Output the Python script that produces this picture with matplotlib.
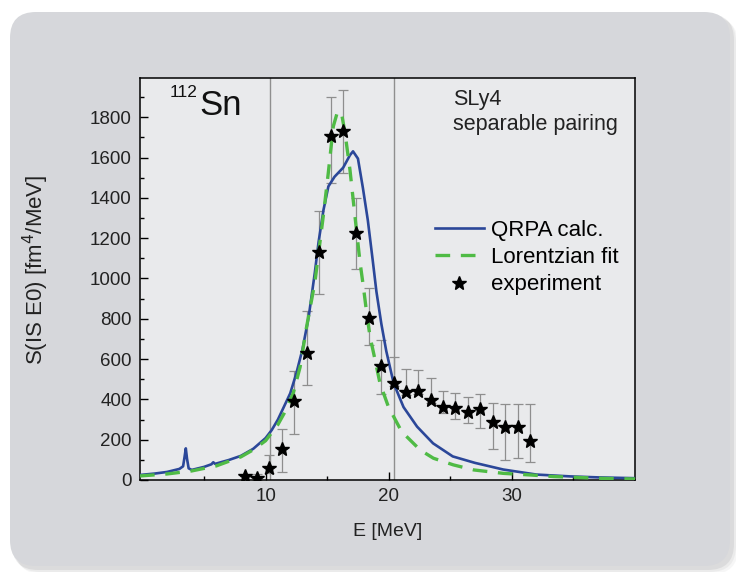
import matplotlib
matplotlib.use("Agg")
import matplotlib.pyplot as plt
from matplotlib.patches import FancyBboxPatch
from matplotlib.transforms import IdentityTransform

plt.rcParams["font.family"] = ["Liberation Sans", "DejaVu Sans"]

# QRPA isoscalar E0 strength (SLy4, separable pairing)
qrpa_e = [-0.2, 1.0, 2.0, 3.0, 3.3, 3.42, 3.52, 3.62, 3.75, 4.0, 5.0, 5.6, 5.75,
          5.9, 7.0, 8.0, 9.0, 10.0, 10.5, 11.0, 11.5, 12.0, 12.5, 13.0, 13.5,
          14.0, 14.3, 14.7, 15.1, 15.6, 16.3, 16.85, 17.1, 17.5, 17.9, 18.3,
          18.7, 19.0, 19.4, 19.8, 20.4, 21.2, 22.3, 23.6, 25.2, 27.0, 29.3,
          32.0, 34.7, 37.0, 40.0]
qrpa_s = [25, 32, 40, 55, 68, 115, 157, 105, 58, 50, 65, 78, 88,
          80, 99, 120, 155, 208, 248, 300, 365, 430, 530, 650, 810,
          1030, 1180, 1340, 1457, 1505, 1550, 1612, 1631, 1595, 1450, 1290,
          1090, 935, 775, 640, 480, 362, 265, 182, 117, 85, 52,
          27, 18, 13, 9]

# Lorentzian fit to the measured strength
lor_e = [-0.2, 2.0, 4.0, 6.0, 8.0, 9.0, 10.0, 11.0, 11.5, 12.24, 12.8, 13.33,
         14.0, 14.68, 15.09, 15.5, 15.85, 16.18, 16.45, 16.85, 17.26, 17.67,
         17.94, 18.21, 18.48, 18.89, 19.29, 19.97, 21.05, 22.55, 23.63, 25.25,
         26.9, 29.3, 31.5, 33.4, 37.4, 40.0]
lor_s = [20, 30, 45, 70, 115, 150, 195, 275, 330, 430, 560, 760,
         980, 1308, 1523, 1755, 1830, 1815, 1722, 1540, 1308, 1080,
         960, 828, 712, 596, 480, 364, 240, 149, 108, 75,
         50, 33, 25, 17, 8, 5]

# Measured strength with asymmetric uncertainties
exp_e = [8.3, 9.3, 10.3, 11.3, 12.3, 13.33, 14.35, 15.3, 16.3, 17.37, 18.37,
         19.37, 20.4, 21.4, 22.4, 23.4, 24.4, 25.4, 26.4, 27.42, 28.45, 29.45,
         30.49, 31.49]
exp_s = [22, 8, 60, 153, 390, 630, 1130, 1705, 1733, 1228, 803,
         568, 480, 435, 440, 398, 362, 356, 336, 353, 287, 262,
         262, 196]
exp_lo = [0, 8, 27, 112, 160, 158, 206, 230, 209, 180, 135,
          140, 15, 15, 15, 15, 31, 54, 51, 96, 135, 163,
          151, 105]
exp_hi = [0, 20, 62, 98, 153, 211, 203, 198, 202, 173, 149,
          126, 130, 118, 107, 108, 78, 78, 78, 75, 97, 116,
          116, 182]

# Boundaries of the fitted energy window
window_e = [10.35, 20.4]

fig = plt.figure(figsize=(7.36, 5.72), dpi=100)
fig.patch.set_facecolor("white")

# card with soft drop shadow (pixel coordinates)
for off, alpha in [(6, 0.06), (4, 0.08), (2, 0.12)]:
    sh = FancyBboxPatch((10 + off, 4 - off), 722, 556,
                        boxstyle="round,pad=0,rounding_size=26",
                        transform=IdentityTransform(), facecolor="#6e6f74",
                        edgecolor="none", alpha=alpha, zorder=0)
    fig.add_artist(sh)
card = FancyBboxPatch((10, 6), 720, 554, boxstyle="round,pad=0,rounding_size=26",
                      transform=IdentityTransform(), facecolor="#d6d7db",
                      edgecolor="none", zorder=0.5)
fig.add_artist(card)

ax = fig.add_axes([140 / 736, 92 / 572, 495 / 736, 402 / 572])
ax.set_facecolor("#e9eaec")
ax.set_zorder(2)

for xv in window_e:
    ax.axvline(xv, color="#8f8f8f", lw=1.0, zorder=1)

ax.errorbar(exp_e, exp_s, yerr=[exp_lo, exp_hi], fmt="none", ecolor="#8e8e8e",
            elinewidth=0.9, capsize=3.5, capthick=0.9, zorder=2)

ax.plot(qrpa_e, qrpa_s, color="#2b4799", lw=1.9, label="QRPA calc.", zorder=3)
ax.plot(lor_e, lor_s, color="#4fbb45", lw=2.4, ls=(0, (4.4, 3.2)),
        label="Lorentzian fit", zorder=4)
ax.plot(exp_e, exp_s, ls="none", marker="*", color="black", ms=10,
        label="experiment", zorder=5)

ax.set_xlim(-0.2, 40)
ax.set_ylim(0, 1995)
ax.set_xticks([10, 20, 30])
ax.set_xticks([5, 15, 25, 35], minor=True)
ax.set_yticks(range(0, 1801, 200))
ax.set_yticks(range(100, 1901, 200), minor=True)
ax.tick_params(which="both", direction="in", top=False, right=False, width=1.0)
ax.tick_params(which="major", length=5.5, labelsize=13.5, pad=6,
               labelcolor="#222222")
ax.tick_params(which="minor", length=3)
for sp in ax.spines.values():
    sp.set_linewidth(1.1)

ax.set_xlabel("E [MeV]", fontsize=14, color="#222222")
ax.xaxis.set_label_coords(0.5, -0.107)
ax.set_ylabel(r"S(IS E0) [fm$^4$/MeV]", fontsize=16, color="#222222")
ax.yaxis.set_label_coords(-0.18, 0.522)

ax.legend(loc="upper left", bbox_to_anchor=((435 - 140) / 495, (480 - 220) / 402),
          frameon=False, fontsize=16, handlelength=2.2, handletextpad=0.3,
          labelspacing=0.28, borderpad=0, borderaxespad=0, numpoints=1)

fig.text(170 / 736, 1 - 97 / 572, "112", fontsize=12.5, color="#111111",
         ha="left", va="baseline")
fig.text(199 / 736, 1 - 115 / 572, "Sn", fontsize=25, color="#111111",
         ha="left", va="baseline")
fig.text(453 / 736, 1 - 105 / 572, "SLy4", fontsize=15.5, color="#222222",
         ha="left", va="baseline")
fig.text(453 / 736, 1 - 130 / 572, "separable pairing", fontsize=15.5,
         color="#222222", ha="left", va="baseline")

fig.savefig("out.png", dpi=100, facecolor="white")
